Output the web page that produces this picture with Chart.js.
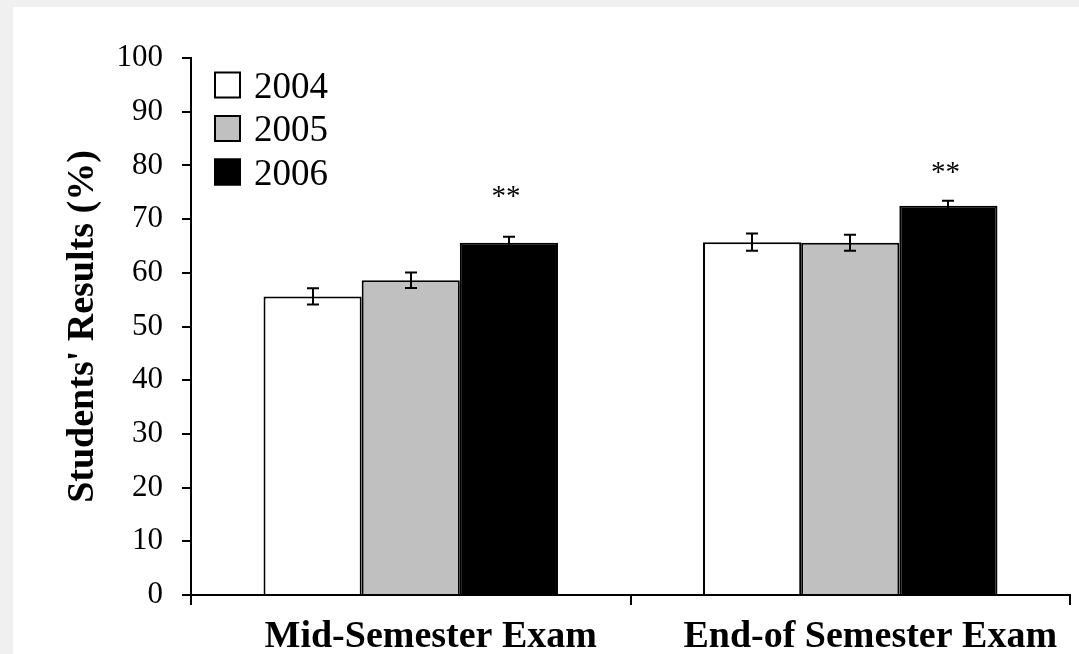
<!DOCTYPE html>
<html>
<head>
<meta charset="utf-8">
<script src="https://cdn.jsdelivr.net/npm/chart.js@4/dist/chart.umd.min.js"></script>
<style>
  html, body { margin: 0; padding: 0; background: #f0f0f0; width: 1079px; height: 654px; overflow: hidden; }
  #frame { position: absolute; left: 13px; top: 7px; width: 1066px; height: 647px; background: #ffffff; }
  #chart { display: block; }
</style>
</head>
<body>
<div id="frame"><canvas id="chart" width="1066" height="647"></canvas></div>
<script>
// Exam categories
const exams = ['Mid-Semester Exam', 'End-of Semester Exam'];

// Cohort years
const years = ['2004', '2005', '2006'];

// Mean results (%) per cohort
const results2004 = [55.6, 65.7];
const results2005 = [58.6, 65.6];
const results2006 = [65.6, 72.5];

// Standard errors per cohort
const errors2004 = [1.5, 1.6];
const errors2005 = [1.45, 1.5];
const errors2006 = [1.1, 0.9];

// Significance markers on the 2006 bars and the level they are written at
const significance = ['**', '**'];
const significanceAt = [75.2, 79.7];

// Y axis ticks
const yTicks = [0, 10, 20, 30, 40, 50, 60, 70, 80, 90, 100];

const serif = '"Liberation Serif", "Times New Roman", Times, serif';

// Error bars with caps, drawn over each bar
const errorBarPlugin = {
  id: 'errorBars',
  afterDatasetsDraw(chart) {
    const ctx = chart.ctx;
    const y = chart.scales.y;
    ctx.save();
    ctx.strokeStyle = '#000';
    ctx.lineWidth = 2;
    chart.data.datasets.forEach((ds, i) => {
      const meta = chart.getDatasetMeta(i);
      meta.data.forEach((bar, j) => {
        const v = ds.data[j];
        const e = ds.errors[j];
        const top = y.getPixelForValue(v + e);
        const bot = y.getPixelForValue(v - e);
        const x = Math.round(bar.x);
        const cap = 6;
        ctx.beginPath();
        ctx.moveTo(x, top); ctx.lineTo(x, bot);
        ctx.moveTo(x - cap, top); ctx.lineTo(x + cap, top);
        ctx.moveTo(x - cap, bot); ctx.lineTo(x + cap, bot);
        ctx.stroke();
      });
    });
    ctx.restore();
  }
};

// Significance asterisks above the 2006 bars
const significancePlugin = {
  id: 'significance',
  afterDatasetsDraw(chart) {
    const ctx = chart.ctx;
    const y = chart.scales.y;
    const meta = chart.getDatasetMeta(2);
    ctx.save();
    ctx.fillStyle = '#000';
    ctx.font = '29px ' + serif;
    ctx.textAlign = 'center';
    ctx.textBaseline = 'alphabetic';
    meta.data.forEach((bar, j) => {
      if (!significance[j]) return;
      ctx.fillText(significance[j], bar.x - 3, y.getPixelForValue(significanceAt[j]) + 14);
    });
    ctx.restore();
  }
};

// Boxed legend in the upper left of the plot
const boxLegendPlugin = {
  id: 'boxLegend',
  afterDraw(chart) {
    const ctx = chart.ctx;
    const left = chart.chartArea.left + 23;
    const firstRow = chart.chartArea.top + 27;
    const step = 43.5;
    const size = 27;
    ctx.save();
    ctx.font = '37px ' + serif;
    ctx.textBaseline = 'alphabetic';
    ctx.textAlign = 'left';
    chart.data.datasets.forEach((ds, i) => {
      const cy = firstRow + i * step;
      ctx.fillStyle = ds.backgroundColor;
      ctx.fillRect(left, cy - size / 2, size, size);
      ctx.strokeStyle = '#000';
      ctx.lineWidth = 2;
      ctx.strokeRect(left + 1, cy - size / 2 + 1, size - 2, size - 2);
      ctx.fillStyle = '#000';
      ctx.fillText(ds.label, left + size + 13, cy + 12.5);
    });
    ctx.restore();
  }
};

const fills = ['#ffffff', '#c0c0c0', '#000000'];
const seriesValues = [results2004, results2005, results2006];
const seriesErrors = [errors2004, errors2005, errors2006];

new Chart(document.getElementById('chart'), {
  type: 'bar',
  data: {
    labels: exams,
    datasets: years.map((yr, i) => ({
      label: yr,
      data: seriesValues[i],
      errors: seriesErrors[i],
      backgroundColor: fills[i],
      borderColor: '#000000',
      borderWidth: 2,
      borderSkipped: 'start',
      categoryPercentage: 0.67,
      barPercentage: 1.0
    }))
  },
  options: {
    responsive: false,
    animation: false,
    events: [],
    layout: { padding: { top: 51, right: 9, left: 0, bottom: 0 } },
    plugins: {
      legend: { display: false },
      tooltip: { enabled: false }
    },
    scales: {
      x: {
        grid: {
          offset: true,
          drawOnChartArea: false,
          drawTicks: true,
          tickLength: 10,
          color: '#000',
          lineWidth: 2
        },
        border: { display: true, color: '#000', width: 2 },
        ticks: {
          color: '#000',
          font: { family: serif, size: 38, weight: 'bold' },
          padding: 9,
          labelOffset: 20,
          maxRotation: 0,
          autoSkip: false
        },
        afterFit(scale) { scale.height = 59; }
      },
      y: {
        min: 0,
        max: 100,
        afterBuildTicks(scale) { scale.ticks = yTicks.map(v => ({ value: v })); },
        grid: {
          drawOnChartArea: false,
          drawTicks: true,
          tickLength: 9,
          color: '#000',
          lineWidth: 2
        },
        border: { display: true, color: '#000', width: 2 },
        ticks: {
          color: '#000',
          font: { family: serif, size: 31 },
          padding: 19
        },
        title: {
          display: true,
          text: "Students' Results (%)",
          color: '#000',
          font: { family: serif, size: 38, weight: 'bold', lineHeight: 1 },
          padding: { top: 51, bottom: 0 }
        },
        afterFit(scale) { scale.width = 178; }
      }
    }
  },
  plugins: [errorBarPlugin, significancePlugin, boxLegendPlugin]
});
</script>
</body>
</html>
